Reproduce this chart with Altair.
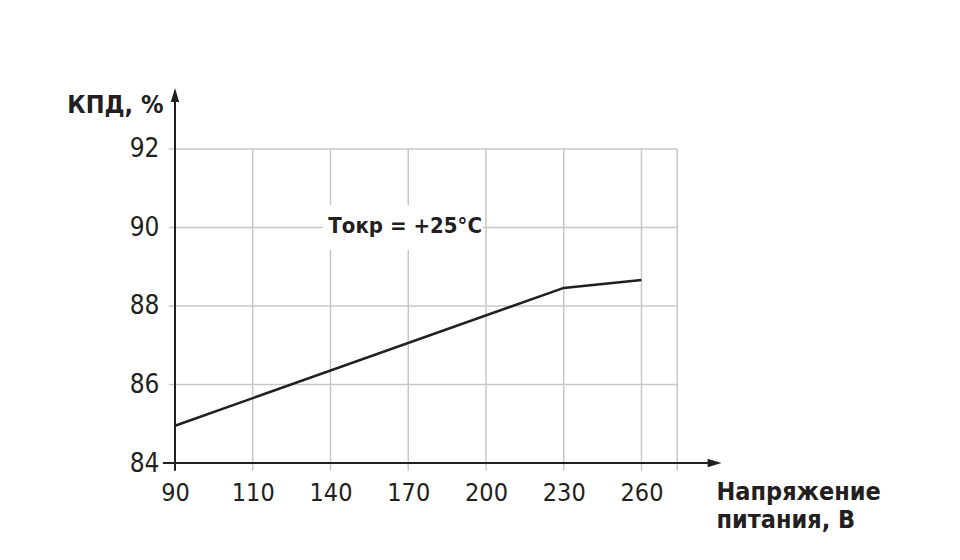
import altair as alt
import pandas as pd

# ---- data ----
x_ticks = [90, 110, 140, 170, 200, 230, 260]
y_ticks = [84, 86, 88, 90, 92]
volt = [90, 230, 260]
eff = [84.95, 88.46, 88.66]
note_text = "Токр = +25°С"
note_pos = [2.96, 90]          # (x index, КПД) of the annotation
x_title = ["Напряжение", "питания, В"]
y_title = "КПД, %"

INK = "#231f20"
GRID = "#c8c8c8"
FONT = "DejaVu Sans Condensed, Liberation Sans, sans-serif"

X_END = 6.46      # right border of the grid (in x-index units)
X_ARROW = 7.03
Y_ARROW = 93.55
Y_BELOW = 83.8

idx = {v: i for i, v in enumerate(x_ticks)}
line_df = pd.DataFrame({"xi": [idx[v] for v in volt], "eff": eff})

xs = alt.Scale(domain=[0, 7.1], nice=False, zero=False)
ys = alt.Scale(domain=[84, 93.5], nice=False, zero=False)

label_expr = "[" + ",".join(f"'{v}'" for v in x_ticks) + "][datum.value]"

x_axis = alt.Axis(values=list(range(len(x_ticks))), labelExpr=label_expr,
                  domain=False, ticks=False, grid=False,
                  labelFont=FONT, labelFontSize=25, labelColor=INK, labelPadding=17,
                  labelFlush=False, labelOverlap=False,
                  title=x_title, titleFont=FONT, titleFontSize=25, titleFontWeight="bold",
                  titleColor=INK, titleX=541, titleY=36, titleAlign="left",
                  titleBaseline="alphabetic", titleLineHeight=28, titleAngle=0)
y_axis = alt.Axis(values=y_ticks, domain=False, ticks=False, grid=False,
                  labelFont=FONT, labelFontSize=26, labelColor=INK, labelPadding=16,
                  labelFlush=False, labelOverlap=False,
                  title=y_title, titleFont=FONT, titleFontSize=25, titleFontWeight="bold",
                  titleColor=INK, titleAngle=0, titleX=-12, titleY=22,
                  titleAlign="right", titleBaseline="alphabetic")

# grid lines
vgrid_df = pd.DataFrame({"x": list(range(1, len(x_ticks))) + [X_END],
                         "y0": Y_BELOW, "y1": y_ticks[-1]})
hgrid_df = pd.DataFrame({"y": y_ticks[1:], "x0": -0.08, "x1": X_END})

vgrid = alt.Chart(vgrid_df).mark_rule(color=GRID, strokeWidth=1.5).encode(
    x=alt.X("x:Q", scale=xs, axis=x_axis),
    y=alt.Y("y0:Q", scale=ys, axis=y_axis),
    y2="y1:Q")
hgrid = alt.Chart(hgrid_df).mark_rule(color=GRID, strokeWidth=1.5).encode(
    x=alt.X("x0:Q", scale=xs), x2="x1:Q", y=alt.Y("y:Q", scale=ys))

note_df = pd.DataFrame({"x": [note_pos[0]], "y": [note_pos[1]], "t": [note_text],
                        "bx0": [1.90], "bx1": [3.96], "by0": [89.43], "by1": [90.57]})
note_box = alt.Chart(note_df).mark_rect(color="white").encode(
    x=alt.X("bx0:Q", scale=xs), x2="bx1:Q", y=alt.Y("by0:Q", scale=ys), y2="by1:Q")
note = alt.Chart(note_df).mark_text(font=FONT, fontSize=22, fontWeight="bold",
                                    color=INK, align="center", baseline="middle", dy=-1).encode(
    x=alt.X("x:Q", scale=xs), y=alt.Y("y:Q", scale=ys), text="t:N")

# axes with arrows
yaxis_line = alt.Chart(pd.DataFrame({"x": [0], "y0": [Y_BELOW], "y1": [Y_ARROW - 0.2]})).mark_rule(
    color=INK, strokeWidth=2).encode(x=alt.X("x:Q", scale=xs), y=alt.Y("y0:Q", scale=ys), y2="y1:Q")
xaxis_line = alt.Chart(pd.DataFrame({"y": [84], "x0": [-0.155], "x1": [X_ARROW - 0.1]})).mark_rule(
    color=INK, strokeWidth=2).encode(y=alt.Y("y:Q", scale=ys), x=alt.X("x0:Q", scale=xs), x2="x1:Q")
yarrow = alt.Chart(pd.DataFrame({"x": [0], "y": [Y_ARROW]})).mark_point(
    shape="M0,0L0.6,2L-0.6,2Z", size=196, filled=True, color=INK, opacity=1, strokeWidth=0).encode(
    x=alt.X("x:Q", scale=xs), y=alt.Y("y:Q", scale=ys))
xarrow = alt.Chart(pd.DataFrame({"x": [X_ARROW], "y": [84]})).mark_point(
    shape="M0,0L-2,-0.6L-2,0.6Z", size=196, filled=True, color=INK, opacity=1, strokeWidth=0).encode(
    x=alt.X("x:Q", scale=xs), y=alt.Y("y:Q", scale=ys))

line = alt.Chart(line_df).mark_line(color=INK, strokeWidth=2.5).encode(
    x=alt.X("xi:Q", scale=xs), y=alt.Y("eff:Q", scale=ys))

chart = alt.layer(vgrid, hgrid, note_box, note, line, yaxis_line, xaxis_line, yarrow, xarrow).properties(
    width=552, height=373,
    background="white",
    autosize=alt.AutoSizeParams(type="none"),
    padding={"left": 167, "top": 82, "right": 220, "bottom": 90},
).configure_view(strokeWidth=0, stroke="transparent")

chart.save("out.html", embed_options={"renderer": "svg", "actions": False})
